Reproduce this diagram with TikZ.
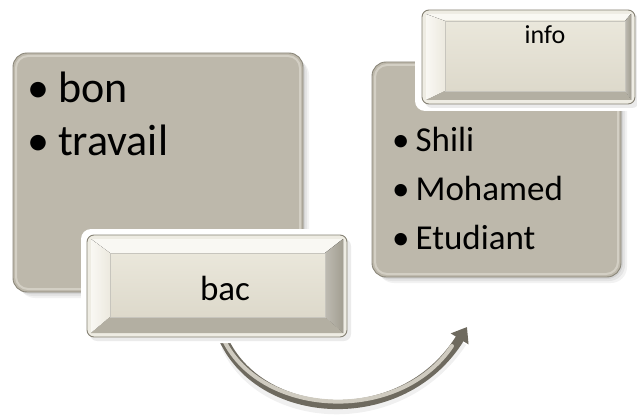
\documentclass[tikz,border=0pt]{standalone}
\usepackage{fontspec}
\setmainfont{Carlito}
\usetikzlibrary{arrows.meta,calc}
\definecolor{boxgray}{HTML}{BDB8AB}
\definecolor{boxedge}{HTML}{8A8679}
\definecolor{boxlight}{HTML}{D3CFC4}
\definecolor{btnframe}{HTML}{EEECE3}
\definecolor{btnedge}{HTML}{858174}
\definecolor{bevtop}{HTML}{F9F8F3}
\definecolor{bevleft}{HTML}{ECE9DF}
\definecolor{bevright}{HTML}{A29E91}
\definecolor{bevbot}{HTML}{B3AFA2}
\definecolor{facetop}{HTML}{EAE7DB}
\definecolor{facebot}{HTML}{DDD9CB}
\definecolor{arrdark}{HTML}{6E6A5F}
\definecolor{arrlight}{HTML}{CFCBC0}
\begin{document}
\begin{tikzpicture}[x=1pt,y=-1pt,
  bigbox/.style={fill=boxgray,draw=boxedge,line width=0.9pt,rounded corners=14pt},
  boxrim/.style={draw=boxlight,line width=2pt,rounded corners=12pt},
  boxshadow/.style={fill=black,opacity=0.07,rounded corners=16pt},
  glow/.style={fill=white,rounded corners=10pt},
  btnouter/.style={fill=btnframe,draw=btnedge,line width=0.9pt,rounded corners=7pt},
  bevelT/.style={fill=bevtop},
  bevelL/.style={left color=bevtop,right color=bevleft},
  bevelR/.style={left color=bevright!70!white,right color=bevright},
  bevelB/.style={fill=bevbot},
  btnface/.style={top color=facetop,bottom color=facebot,draw=bevright!60!white,line width=0.5pt},
  bigtext/.style={anchor=base west,inner sep=0pt,font=\fontsize{44}{50}\selectfont},
  midtext/.style={anchor=base west,inner sep=0pt,font=\fontsize{35}{40}\selectfont},
  btntext/.style={anchor=base,inner sep=0pt},
  arrowshaft/.style={line width=9pt,draw=arrdark,-{Triangle[length=14pt,width=20pt]}},
  arrowshine/.style={line width=4pt,draw=arrlight,line cap=round}
]
\useasboundingbox (0,0) rectangle (637,417);

% ---------- left box ----------
\foreach \s/\o in {6/0.05,4/0.06,2/0.07}{
  \fill[black,opacity=\o,rounded corners=16pt] (13+\s,53+\s) rectangle (303+\s,292+\s);}
\node[bigbox,minimum width=290pt,minimum height=239pt,inner sep=0pt] (leftbox) at (158,172.5) {};
\draw[boxrim] (16,56) rectangle (300,289);
\node[bigtext] (bon) at (27,103) {•\hspace{9pt}bon};
\node[bigtext] (travail) at (27,156) {•\hspace{9pt}travail};

% ---------- right box ----------
\foreach \s/\o in {6/0.05,4/0.06,2/0.07}{
  \fill[black,opacity=\o,rounded corners=16pt] (372+\s,62+\s) rectangle (621+\s,277+\s);}
\node[bigbox,minimum width=249pt,minimum height=215pt,inner sep=0pt] (rightbox) at (496.5,169.5) {};
\draw[boxrim] (375,65) rectangle (618,274);
\node[midtext] (shili) at (392,151) {•\hspace{6pt}Shili};
\node[midtext] (mohamed) at (392,200) {•\hspace{6pt}Mohamed};
\node[midtext] (etudiant) at (392,249) {•\hspace{6pt}Etudiant};

% ---------- arrow ----------
\coordinate (arrS) at (222,336);
\coordinate (arrE) at (467,327);
\draw[line width=10pt,draw=black,opacity=0.06] (226,346) .. controls (262,426) and (400,436) .. (462,342);
\draw[arrowshaft] (arrS) .. controls (258,422) and (402,432) .. (arrE);
\draw[arrowshine] (arrS) .. controls (257,417) and (398,426) .. (452,346);

% ---------- info button ----------
\fill[glow] (415,4) rectangle (637,111);
\fill[black,opacity=0.08,rounded corners=7pt] (425,14) rectangle (639,108);
\draw[btnouter] (422,10) rectangle (635,104);
\fill[bevelT] (426,14) -- (631,14) -- (625,21) -- (445,21) -- cycle;
\fill[bevelL] (426,14) -- (445,21) -- (445,91) -- (426,100) -- cycle;
\fill[bevelR] (631,14) -- (631,100) -- (625,91) -- (625,21) -- cycle;
\fill[bevelB] (426,100) -- (631,100) -- (625,91) -- (445,91) -- cycle;
\draw[btnface] (445,21) rectangle (625,91);
\node[btntext,font=\fontsize{26}{30}\selectfont] (info) at (545,44) {info};

% ---------- bac button ----------
\fill[glow] (81,229) rectangle (353,343);
\fill[black,opacity=0.08,rounded corners=7pt] (90,239) rectangle (351,341);
\draw[btnouter] (87,235) rectangle (347,337);
\fill[bevelT] (91,239) -- (343,239) -- (325,253) -- (110,253) -- cycle;
\fill[bevelL] (91,239) -- (110,253) -- (110,317) -- (91,333) -- cycle;
\fill[bevelR] (343,239) -- (343,333) -- (325,317) -- (325,253) -- cycle;
\fill[bevelB] (91,333) -- (343,333) -- (325,317) -- (110,317) -- cycle;
\draw[btnface] (110,253) rectangle (325,317);
\node[btntext,font=\fontsize{35}{40}\selectfont] (bac) at (225,300) {bac};
\end{tikzpicture}
\end{document}
